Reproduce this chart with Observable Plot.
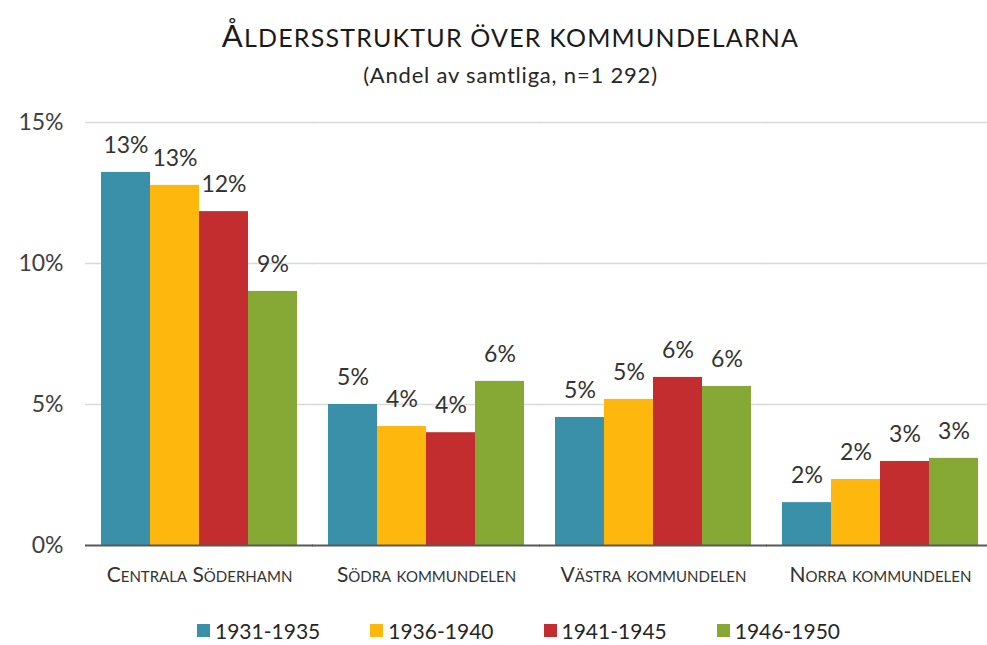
<!DOCTYPE html>
<html><head><meta charset="utf-8">
<script src="https://cdn.jsdelivr.net/npm/d3@7"></script>
<script src="https://cdn.jsdelivr.net/npm/@observablehq/plot@0.6"></script>
<style>
body{margin:0;background:#fff;font-family:Lato,"Open Sans",sans-serif;color:#262626;width:987px;overflow:hidden;}
#title{height:58px;padding-top:20px;box-sizing:border-box;text-align:center;font-size:25px;letter-spacing:1.2px;text-transform:uppercase;line-height:30px;padding-left:34px;color:#1a1a1a;}
#title::first-letter{font-size:31px;}
#subtitle{height:37px;padding-top:6px;box-sizing:border-box;text-align:center;font-size:22px;letter-spacing:0.8px;line-height:22px;padding-left:34px;color:#262626;}
#legend{display:flex;justify-content:center;gap:50px;font-size:21px;padding-left:50px;margin-top:18px;color:#262626;}
#legend .item{display:flex;align-items:center;}
#legend .sw{width:13px;height:13px;margin-right:5px;}
svg{display:block;}
g[aria-label="category labels"] text{letter-spacing:1.3px;}
</style></head>
<body>
<div id="title">Åldersstruktur över kommundelarna</div>
<div id="subtitle">(Andel av samtliga, n=1 292)</div>
<div id="chart"></div>
<div id="legend"></div>
<script>
const categories = ["Centrala Söderhamn", "Södra kommundelen", "Västra kommundelen", "Norra kommundelen"];
const series = ["1931-1935", "1936-1940", "1941-1945", "1946-1950"];
const v1931_1935 = [0.1323, 0.0500, 0.0454, 0.0152];
const v1936_1940 = [0.1277, 0.0422, 0.0518, 0.0234];
const v1941_1945 = [0.1184, 0.0400, 0.0596, 0.0298];
const v1946_1950 = [0.0901, 0.0582, 0.0564, 0.0309];
const yTicks = [0, 0.05, 0.10, 0.15];
const colors = ["#3a90a8", "#feb70d", "#c42d2f", "#86a935"];

const seriesValues = [v1931_1935, v1936_1940, v1941_1945, v1946_1950];
const data = [];
categories.forEach((c, i) => series.forEach((s, j) => data.push({category: c, series: s, value: seriesValues[j][i]})));

const pct = d3.format(".0%");
const ext = -16;
const chart = Plot.plot({
  width: 987,
  height: 505,
  marginLeft: 85,
  marginRight: 0,
  marginTop: 27,
  marginBottom: 55,
  style: {fontFamily: "Lato, 'Open Sans', sans-serif", fontSize: "23px", color: "#404040", background: "white"},
  fx: {domain: categories, paddingInner: 0.138, paddingOuter: 0.0516, align: 0.64, axis: null, label: null},
  x: {domain: series, padding: 0, axis: null},
  y: {domain: [0, 0.15], ticks: yTicks, tickFormat: pct, tickSize: 0, tickPadding: 38, label: null, grid: false},
  color: {domain: series, range: colors},
  marks: [
    Plot.ruleY(yTicks.slice(1), {stroke: "#d9d9d9", strokeWidth: 1.3, insetLeft: ext, insetRight: ext}),
    Plot.barY(data, {fx: "category", x: "series", y: "value", fill: "series"}),
    Plot.ruleY([0], {stroke: "#595959", strokeWidth: 2.2, insetLeft: ext, insetRight: ext}),
    Plot.text(data, {fx: "category", x: "series", y: "value", text: d => pct(d.value), dy: -27, fontSize: 23, fill: "#333"}),
    Plot.text(categories, {fx: d => d, text: d => d, frameAnchor: "bottom", dy: 36, fontSize: 21, fill: "#333", fontVariant: "small-caps", ariaLabel: "category labels"})
  ]
});
document.getElementById("chart").appendChild(chart);

const legend = document.getElementById("legend");
series.forEach((s, i) => {
  const it = document.createElement("div");
  it.className = "item";
  it.innerHTML = `<span class="sw" style="background:${colors[i]}"></span><span>${s}</span>`;
  legend.appendChild(it);
});
</script>
</body></html>
